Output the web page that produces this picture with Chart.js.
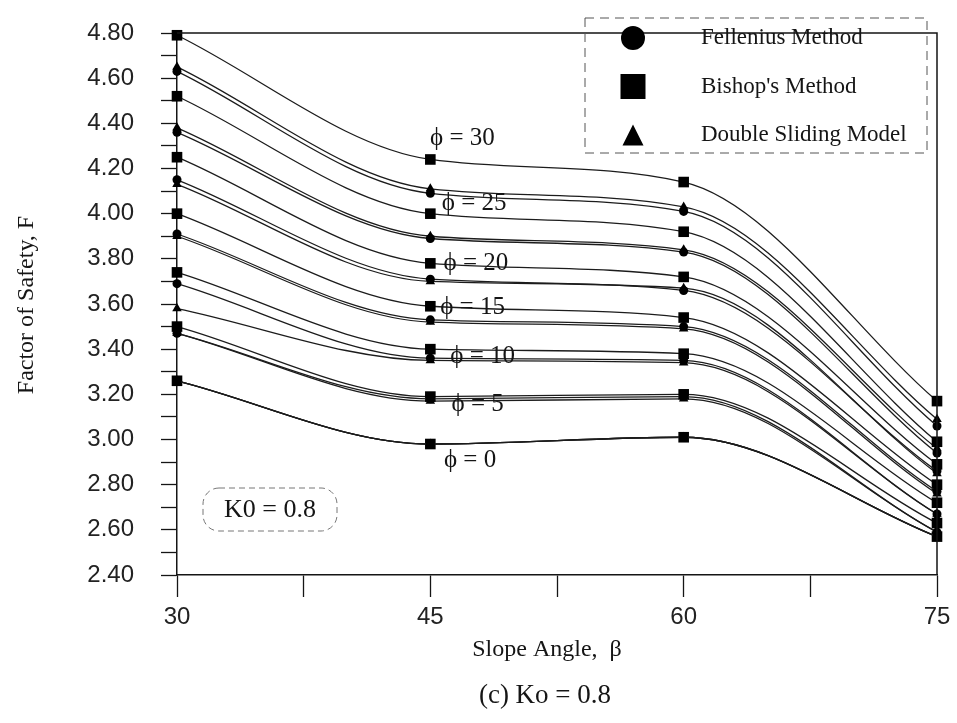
<!DOCTYPE html>
<html>
<head>
<meta charset="utf-8">
<title>Factor of Safety vs Slope Angle (Ko = 0.8)</title>
<script src="https://cdn.jsdelivr.net/npm/chart.js@4.4.1/dist/chart.umd.min.js"></script>
<style>
  html, body { margin: 0; padding: 0; background: #fff; }
</style>
</head>
<body>
<canvas id="chart" width="957" height="723"></canvas>
<script>
'use strict';

// slope angle beta (deg) and friction angle phi of each curve family
const slopeAngles = [30, 45, 60, 75];
const phiValues = [30, 25, 20, 15, 10, 5, 0];

// factor of safety, one row per phi (30 ... 0), one value per slope angle
const felleniusFs = [
  [4.63, 4.09, 4.01, 3.06],
  [4.36, 3.89, 3.83, 2.94],
  [4.15, 3.71, 3.66, 2.86],
  [3.91, 3.53, 3.50, 2.77],
  [3.69, 3.36, 3.35, 2.67],
  [3.47, 3.18, 3.19, 2.59],
  [3.26, 2.98, 3.01, 2.57]
];
const bishopFs = [
  [4.79, 4.24, 4.14, 3.17],
  [4.52, 4.00, 3.92, 2.99],
  [4.25, 3.78, 3.72, 2.89],
  [4.00, 3.59, 3.54, 2.80],
  [3.74, 3.40, 3.38, 2.72],
  [3.50, 3.19, 3.20, 2.63],
  [3.26, 2.98, 3.01, 2.57]
];
const doubleSlidingFs = [
  [4.65, 4.11, 4.03, 3.09],
  [4.38, 3.90, 3.84, 2.96],
  [4.13, 3.70, 3.67, 2.85],
  [3.90, 3.52, 3.49, 2.76],
  [3.58, 3.35, 3.34, 2.67],
  [3.47, 3.17, 3.18, 2.59],
  [3.26, 2.98, 3.01, 2.57]
];

const xTickValues = [30, 37.5, 45, 52.5, 60, 67.5, 75];
const xTickLabels = [30, 45, 60, 75];

const methods = [
  { name: 'Fellenius Method', style: 'circle', radius: 4.5, rows: felleniusFs },
  { name: "Bishop's Method", style: 'rect', radius: 7.5, rows: bishopFs },
  { name: 'Double Sliding Model', style: 'triangle', radius: 5.5, rows: doubleSlidingFs }
];

// where each "phi = .." label sits, in axis units (beta, F)
const phiLabelAt = [
  [46.9, 4.335], [47.6, 4.047], [47.7, 3.781], [47.5, 3.586],
  [48.1, 3.369], [47.8, 3.157], [47.35, 2.909]
];

const serif = '"Liberation Serif", "Times New Roman", Times, serif';
const sans = '"Liberation Sans", Arial, Helvetica, sans-serif';
const ink = '#151515';

const datasets = [];
methods.forEach(m => {
  m.rows.forEach((row, i) => {
    datasets.push({
      label: m.name + ' phi=' + phiValues[i],
      data: row.map((f, j) => ({ x: slopeAngles[j], y: f })),
      borderColor: '#1c1c1c',
      borderWidth: 1.3,
      cubicInterpolationMode: 'monotone',
      pointStyle: m.style,
      pointRadius: m.radius,
      pointBackgroundColor: '#000',
      pointBorderWidth: 0,
      clip: false
    });
  });
});

function drawMarker(ctx, style, cx, cy, size) {
  ctx.beginPath();
  if (style === 'circle') {
    ctx.arc(cx, cy, size / 2, 0, Math.PI * 2);
  } else if (style === 'rect') {
    ctx.rect(cx - size / 2, cy - size / 2, size, size);
  } else {
    ctx.moveTo(cx, cy - size / 2);
    ctx.lineTo(cx + size / 2, cy + size / 2);
    ctx.lineTo(cx - size / 2, cy + size / 2);
    ctx.closePath();
  }
  ctx.fill();
}

const decorations = {
  id: 'decorations',
  afterDraw(chart) {
    const { ctx, chartArea: a, scales: { x, y } } = chart;
    ctx.save();

    // close the frame on top and right
    ctx.strokeStyle = ink;
    ctx.lineWidth = 1.5;
    ctx.beginPath();
    ctx.moveTo(a.left, a.top);
    ctx.lineTo(a.right, a.top);
    ctx.lineTo(a.right, a.bottom);
    ctx.stroke();

    // phi labels on the curve families
    ctx.fillStyle = ink;
    ctx.textAlign = 'center';
    ctx.textBaseline = 'middle';
    ctx.font = '25px ' + serif;
    phiValues.forEach((phi, i) => {
      const [bx, fy] = phiLabelAt[i];
      ctx.fillText('\u03D5 = ' + phi, x.getPixelForValue(bx), y.getPixelForValue(fy));
    });

    // legend box
    const lx = a.right - 352, ly = a.top - 15;
    ctx.strokeStyle = '#555';
    ctx.lineWidth = 1;
    ctx.setLineDash([9, 6]);
    ctx.strokeRect(lx, ly, 342, 135);
    ctx.setLineDash([]);
    const sizes = [24, 25, 21];
    methods.forEach((m, i) => {
      const cy = ly + 20 + i * 48.5;
      ctx.fillStyle = '#000';
      drawMarker(ctx, m.style, lx + 48, cy, sizes[i]);
      ctx.fillStyle = ink;
      ctx.textAlign = 'left';
      ctx.font = '23px ' + serif;
      ctx.fillText(m.name, lx + 116, cy);
    });

    // K0 tag
    ctx.strokeStyle = '#777';
    ctx.lineWidth = 1;
    ctx.setLineDash([6, 4]);
    ctx.beginPath();
    ctx.roundRect(a.left + 26, a.bottom - 87, 134, 43, 16);
    ctx.stroke();
    ctx.setLineDash([]);
    ctx.fillStyle = ink;
    ctx.textAlign = 'center';
    ctx.font = '26px ' + serif;
    ctx.fillText('K0 = 0.8', a.left + 93, a.bottom - 65);

    // axis titles and caption
    ctx.font = '24px ' + serif;
    ctx.fillText('Slope Angle,  \u03B2', 547, 650);
    ctx.font = '27px ' + serif;
    ctx.fillText('(c) Ko = 0.8', 545, 696);
    ctx.translate(27, 305);
    ctx.rotate(-Math.PI / 2);
    ctx.font = '24px ' + serif;
    ctx.fillText('Factor of Safety, F', 0, 0);

    ctx.restore();
  }
};

new Chart(document.getElementById('chart'), {
  type: 'line',
  data: { datasets },
  options: {
    responsive: false,
    animation: false,
    layout: { padding: { left: 0, top: 33, right: 20, bottom: 0 } },
    plugins: { legend: { display: false }, tooltip: { enabled: false } },
    scales: {
      x: {
        type: 'linear',
        min: 30,
        max: 75,
        afterFit(s) {
          s.height = 148;
          s.paddingLeft = 0;
          s.paddingRight = 0;
        },
        afterBuildTicks(s) { s.ticks = xTickValues.map(v => ({ value: v })); },
        ticks: {
          autoSkip: false,
          maxRotation: 0,
          padding: 6,
          color: '#222',
          font: { family: sans, size: 24 },
          callback: v => xTickLabels.includes(v) ? String(v) : ''
        },
        grid: { drawOnChartArea: false, tickLength: 22, tickWidth: 1.3, tickColor: ink },
        border: { color: ink, width: 1.5 }
      },
      y: {
        min: 2.4,
        max: 4.8,
        afterFit(s) {
          s.width = 177;
          s.paddingTop = 0;
          s.paddingBottom = 0;
        },
        ticks: {
          stepSize: 0.1,
          autoSkip: false,
          padding: 27,
          color: '#222',
          font: { family: sans, size: 24 },
          callback: v => Math.round(v * 10) % 2 === 0 ? v.toFixed(2) : ''
        },
        grid: { drawOnChartArea: false, tickLength: 16, tickWidth: 1.3, tickColor: ink },
        border: { color: ink, width: 1.5 }
      }
    }
  },
  plugins: [decorations]
});
</script>
</body>
</html>
